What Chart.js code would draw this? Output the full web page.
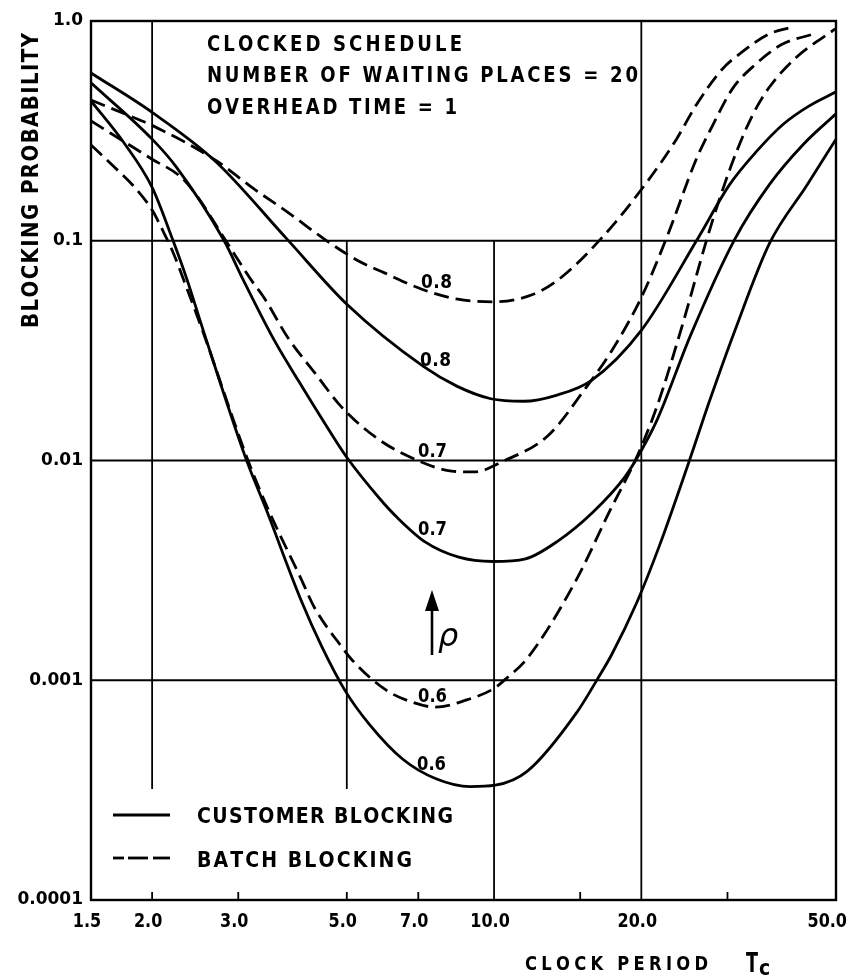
<!DOCTYPE html>
<html>
<head>
<meta charset="utf-8">
<title>Blocking probability vs clock period</title>
<script src="https://cdn.jsdelivr.net/npm/chart.js@4.4.1/dist/chart.umd.min.js"></script>
<style>
  html, body { margin: 0; padding: 0; background: #fff; }
  #wrap { width: 850px; height: 976px; }
</style>
</head>
<body>
<div id="wrap"><canvas id="chart" width="850" height="976"></canvas></div>
<script>
// Axis ticks
const xTickValues = [1.5, 2, 3, 5, 7, 10, 20, 50];
const xTickLabels = ['1.5', '2.0', '3.0', '5.0', '7.0', '10.0', '20.0', '50.0'];
const yTickValues = [0.0001, 0.001, 0.01, 0.1, 1];
const yTickLabels = ['0.0001', '0.001', '0.01', '0.1', '1.0'];

// Customer blocking (solid), rho = 0.8 / 0.7 / 0.6
const custT08 = [1.5, 2.0, 2.7, 3.77, 5.02, 7.17, 8.39, 9.85, 11.5, 13.4, 15.8, 20.0, 26.0, 30.3, 34.4, 39.0, 44.0, 50.0];
const custP08 = [0.58, 0.384, 0.229, 0.102, 0.051, 0.0268, 0.0218, 0.0191, 0.0186, 0.0198, 0.0231, 0.0391, 0.101, 0.180, 0.255, 0.339, 0.410, 0.476];

const custT07 = [1.5, 2.0, 2.24, 2.80, 3.08, 3.56, 3.98, 4.53, 4.99, 5.84, 6.34, 7.24, 8.47, 9.94, 11.6, 13.5, 15.9, 18.5, 20.0, 21.6, 25.2, 31.0, 36.6, 42.9, 50.0];
const custP07 = [0.523, 0.290, 0.217, 0.101, 0.0655, 0.0350, 0.0231, 0.0145, 0.0104, 0.0067, 0.0055, 0.00425, 0.00363, 0.00347, 0.00357, 0.0043, 0.0058, 0.0084, 0.0111, 0.0155, 0.037, 0.101, 0.181, 0.275, 0.378];

const custT06 = [1.5, 1.75, 2.0, 2.2, 2.36, 2.54, 3.11, 3.43, 4.03, 4.44, 4.96, 5.56, 6.51, 7.61, 8.94, 10.06, 11.7, 14.8, 16.3, 17.4, 19.6, 21.8, 24.9, 27.6, 31.1, 36.6, 43.6, 50.0];
const custP06 = [0.433, 0.28, 0.175, 0.102, 0.066, 0.0395, 0.0102, 0.0059, 0.00232, 0.00143, 0.000897, 0.00063, 0.000437, 0.000356, 0.000328, 0.000333, 0.000386, 0.00072, 0.00102, 0.00131, 0.00227, 0.00412, 0.00954, 0.0188, 0.0393, 0.0977, 0.179, 0.29];

// Batch blocking (dashed), rho = 0.8 / 0.7 / 0.6
const batchT08 = [1.5, 1.87, 2.0, 2.7, 3.22, 3.82, 4.49, 5.25, 5.97, 7.14, 8.43, 9.95, 11.7, 13.4, 16.6, 20.5, 23.6, 25.9, 29.3, 32.2, 36.3, 40.7];
const batchP08 = [0.437, 0.357, 0.335, 0.232, 0.173, 0.133, 0.102, 0.0816, 0.0714, 0.060, 0.0542, 0.0527, 0.0558, 0.0654, 0.103, 0.184, 0.290, 0.415, 0.605, 0.725, 0.868, 0.94];

const batchT07 = [1.5, 2.0, 2.29, 2.46, 2.83, 3.20, 3.39, 3.79, 4.31, 4.88, 5.83, 7.14, 8.19, 9.13, 10.4, 12.9, 15.4, 17.4, 20.0, 22.6, 25.9, 28.0, 30.7, 34.2, 38.8, 44.9];
const batchP07 = [0.351, 0.235, 0.195, 0.162, 0.10, 0.0655, 0.0549, 0.0362, 0.0249, 0.0175, 0.0124, 0.0098, 0.00895, 0.00887, 0.00989, 0.0130, 0.0214, 0.0316, 0.0552, 0.105, 0.235, 0.336, 0.491, 0.634, 0.783, 0.872];

const batchT06 = [1.5, 1.68, 1.83, 2.0, 2.1, 2.2, 2.36, 2.54, 3.13, 3.43, 4.03, 4.29, 4.88, 5.12, 5.99, 6.81, 7.58, 8.94, 10.0, 10.6, 11.7, 14.7, 17.1, 19.7, 21.6, 24.2, 27.2, 28.9, 31.3, 33.8, 36.4, 41.3, 49.8];
const batchP06 = [0.273, 0.215, 0.178, 0.138, 0.112, 0.09, 0.06, 0.0386, 0.0102, 0.0062, 0.0029, 0.00215, 0.00142, 0.00124, 0.000908, 0.000794, 0.000755, 0.000824, 0.000918, 0.00102, 0.00126, 0.00284, 0.00568, 0.0107, 0.0180, 0.0405, 0.101, 0.155, 0.254, 0.375, 0.494, 0.677, 0.92];

const FONT = "'DejaVu Sans', sans-serif";

function series(label, T, P, dashed) {
  return {
    label,
    data: T.map((t, i) => ({ x: t, y: P[i] })),
    showLine: true,
    borderColor: '#000',
    borderWidth: 2.8,
    borderDash: dashed ? [15, 7] : [],
    pointRadius: 0,
    cubicInterpolationMode: 'monotone',
    fill: false
  };
}

// Draws text so that it spans a given width: glyphs are narrowed by
// `squeeze`, and leftover room goes into letter spacing.
function fitText(ctx, text, x, y, width, font, squeeze = 1) {
  ctx.save();
  ctx.font = font;
  ctx.textAlign = 'left';
  ctx.textBaseline = 'alphabetic';
  ctx.fillStyle = '#000';
  const chars = Array.from(text);
  const widths = chars.map(c => ctx.measureText(c).width);
  const natural = widths.reduce((s, w) => s + w, 0);
  let k = squeeze;
  if (natural * k > width) k = width / natural;
  const gap = chars.length > 1 ? (width - natural * k) / (chars.length - 1) : 0;
  let cx = x;
  chars.forEach((c, i) => {
    ctx.save();
    ctx.translate(cx, y);
    ctx.scale(k, 1);
    ctx.fillText(c, 0, 0);
    ctx.restore();
    cx += widths[i] * k + gap;
  });
  ctx.restore();
}

function seg(ctx, x1, y1, x2, y2) {
  ctx.beginPath();
  ctx.moveTo(x1, y1);
  ctx.lineTo(x2, y2);
  ctx.stroke();
}

const paperPlugin = {
  id: 'paper',
  beforeDraw(chart) {
    const { ctx, width, height } = chart;
    ctx.save();
    ctx.fillStyle = '#fff';
    ctx.fillRect(0, 0, width, height);
    ctx.restore();
  },
  beforeDatasetsDraw(chart) {
    const { ctx, chartArea: a, scales: { x, y } } = chart;
    ctx.save();
    ctx.strokeStyle = '#000';
    ctx.lineCap = 'butt';

    // horizontal decade lines
    ctx.lineWidth = 1.8;
    [0.1, 0.01, 0.001].forEach(v => {
      const py = y.getPixelForValue(v);
      seg(ctx, a.left, py, a.right, py);
    });

    // vertical lines; the ones at 2 and 5 stop above the key, 5 and 10 start at 0.1
    [[2, 1, 0.00032], [5, 0.1, 0.00032], [10, 0.1, 0.0001], [20, 1, 0.0001]].forEach(([v, top, bot]) => {
      const px = x.getPixelForValue(v);
      seg(ctx, px, y.getPixelForValue(top), px, y.getPixelForValue(bot));
    });

    // short tick marks on the period axis
    [2, 3, 5, 7, 15, 30].forEach(v => {
      const px = x.getPixelForValue(v);
      seg(ctx, px, a.bottom, px, a.bottom - 8);
    });

    // frame
    ctx.lineWidth = 2.4;
    ctx.strokeRect(a.left, a.top, a.right - a.left, a.bottom - a.top);
    ctx.restore();
  },
  afterDatasetsDraw(chart) {
    const { ctx, scales: { x } } = chart;
    ctx.save();
    ctx.fillStyle = '#000';
    ctx.strokeStyle = '#000';

    // period tick labels
    const tf = `bold 20px ${FONT}`;
    ctx.font = tf;
    x.ticks.forEach((t, i) => {
      const label = xTickLabels[i];
      const w = ctx.measureText(label).width * 0.8;
      let left = x.getPixelForValue(t.value) - 4 - w / 2;
      if (left + w > 847) left = 847 - w;
      fitText(ctx, label, left, 927, w, tf, 0.8);
    });

    // header block
    const hf = `bold 21px ${FONT}`;
    fitText(ctx, 'CLOCKED SCHEDULE', 207, 51, 255, hf, 0.86);
    fitText(ctx, 'NUMBER OF WAITING PLACES = 20', 207, 82, 431, hf, 0.86);
    fitText(ctx, 'OVERHEAD TIME = 1', 207, 114, 250, hf, 0.86);

    // curve labels (rho values)
    const lf = `bold 20px ${FONT}`;
    fitText(ctx, '0.8', 421, 288, 31, lf, 0.85);
    fitText(ctx, '0.8', 420, 366, 31, lf, 0.85);
    fitText(ctx, '0.7', 418, 457, 29, lf, 0.85);
    fitText(ctx, '0.7', 418, 535, 29, lf, 0.85);
    fitText(ctx, '0.6', 418, 702, 29, lf, 0.85);
    fitText(ctx, '0.6', 417, 770, 29, lf, 0.85);

    // rho arrow
    ctx.lineWidth = 2.6;
    seg(ctx, 432, 655, 432, 606);
    ctx.beginPath();
    ctx.moveTo(432, 590);
    ctx.lineTo(425, 611);
    ctx.lineTo(439, 611);
    ctx.closePath();
    ctx.fill();
    ctx.font = `italic 32px ${FONT}`;
    ctx.textAlign = 'left';
    ctx.fillText('\u03C1', 438, 646);

    // key
    ctx.lineWidth = 2.8;
    seg(ctx, 113, 815, 170, 815);
    seg(ctx, 113, 858, 124, 858);
    seg(ctx, 128, 858, 148, 858);
    seg(ctx, 153, 858, 170, 858);
    const kf = `bold 22px ${FONT}`;
    fitText(ctx, 'CUSTOMER BLOCKING', 197, 823, 256, kf, 0.86);
    fitText(ctx, 'BATCH BLOCKING', 197, 867, 215, kf, 0.86);

    // axis titles
    fitText(ctx, 'CLOCK PERIOD', 525, 970, 183, `bold 19px ${FONT}`, 0.86);
    fitText(ctx, 'T', 746, 972, 12, `bold 26px ${FONT}`, 0.8);
    fitText(ctx, 'c', 759, 975, 12, `bold 21px ${FONT}`, 0.9);

    ctx.save();
    ctx.translate(38, 328);
    ctx.rotate(-Math.PI / 2);
    fitText(ctx, 'BLOCKING PROBABILITY', 0, 0, 295, `bold 23px ${FONT}`, 0.86);
    ctx.restore();

    ctx.restore();
  }
};

new Chart(document.getElementById('chart'), {
  type: 'scatter',
  data: {
    datasets: [
      series('customer 0.8', custT08, custP08, false),
      series('customer 0.7', custT07, custP07, false),
      series('customer 0.6', custT06, custP06, false),
      series('batch 0.8', batchT08, batchP08, true),
      series('batch 0.7', batchT07, batchP07, true),
      series('batch 0.6', batchT06, batchP06, true)
    ]
  },
  options: {
    responsive: false,
    animation: false,
    layout: { padding: { top: 21, right: 14, bottom: 0, left: 0 } },
    plugins: { legend: { display: false }, tooltip: { enabled: false } },
    elements: { point: { radius: 0 } },
    scales: {
      x: {
        type: 'logarithmic',
        min: 1.5,
        max: 50,
        grid: { display: false, drawTicks: false },
        border: { display: false },
        ticks: { display: false, autoSkip: false },
        afterBuildTicks: s => { s.ticks = xTickValues.map(v => ({ value: v })); },
        afterFit: s => { s.height = 76; s.paddingLeft = 0; s.paddingRight = 0; }
      },
      y: {
        type: 'logarithmic',
        min: 0.0001,
        max: 1,
        grid: { display: false, drawTicks: false },
        border: { display: false },
        ticks: {
          color: '#000',
          autoSkip: false,
          padding: 8,
          font: { family: FONT, size: 17, weight: 'bold' },
          callback: (v, i) => yTickLabels[i]
        },
        afterBuildTicks: s => { s.ticks = yTickValues.map(v => ({ value: v })); },
        afterFit: s => { s.width = 91; s.paddingTop = 0; s.paddingBottom = 0; }
      }
    }
  },
  plugins: [paperPlugin]
});
</script>
</body>
</html>
